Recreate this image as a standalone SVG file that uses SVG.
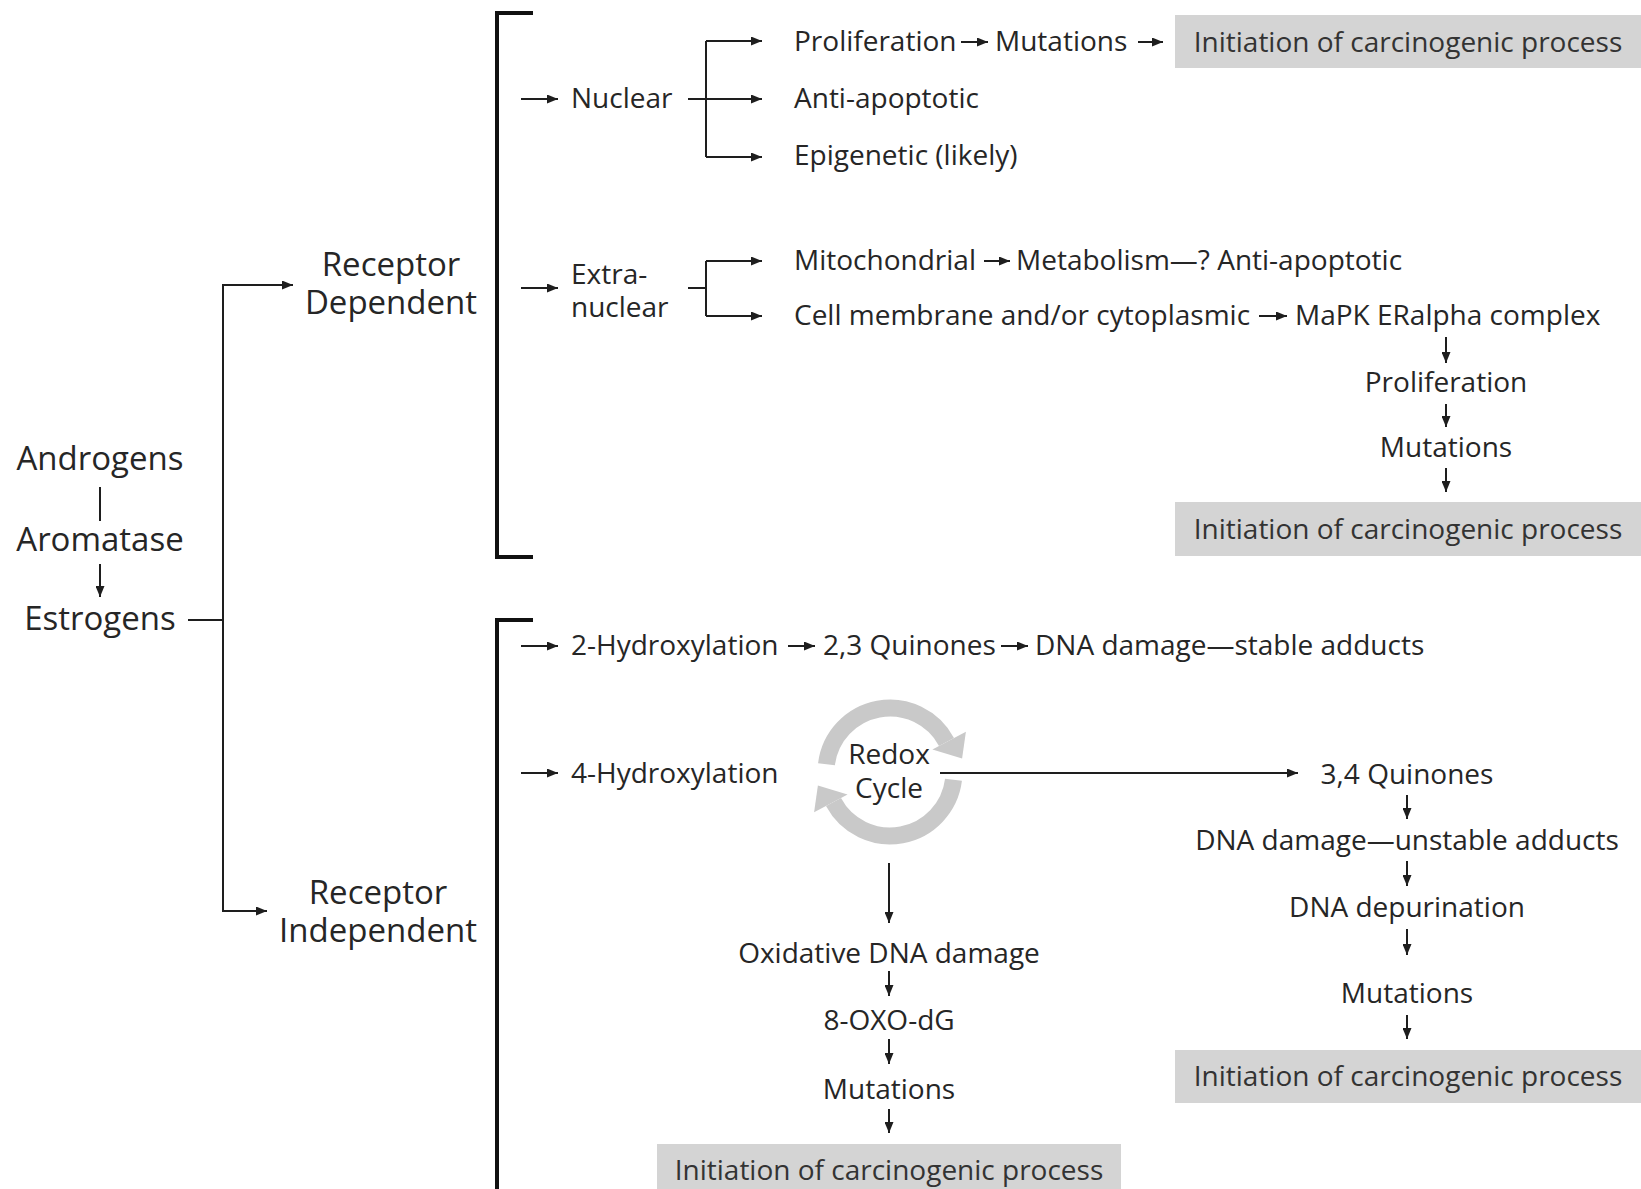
<svg xmlns="http://www.w3.org/2000/svg" width="1641" height="1189" viewBox="0 0 1641 1189">
<defs>
<marker id="ah" markerUnits="userSpaceOnUse" markerWidth="11" markerHeight="9" refX="11" refY="4.5" orient="auto"><path d="M0,0 L11,4.5 L0,9 z" fill="#1e1e1e"/></marker>
<style>
text{font-family:"Open Sans","Noto Sans","Liberation Sans",sans-serif;fill:#262626;font-size:28px}
.big{font-size:33px}
.m{text-anchor:middle}
.bt{fill:#333}
.ln{fill:none;stroke:#1e1e1e;stroke-width:2}
.ar{fill:none;stroke:#1e1e1e;stroke-width:2;marker-end:url(#ah)}
.br{fill:none;stroke:#111;stroke-width:4}
.box{fill:#d4d4d4}
.ring{fill:none;stroke:#c9c9c9;stroke-width:17}
.rh{fill:#c9c9c9}
</style>
</defs>
<rect width="1641" height="1189" fill="#fff"/>
<g id="connectors">
<line class="ln" x1="100" y1="487" x2="100" y2="521"/>
<line class="ar" x1="100" y1="564" x2="100" y2="597"/>
<path class="ln" d="M188,620 H223"/>
<path class="ar" d="M223,620 V285 H293"/>
<path class="ar" d="M223,620 V911 H267"/>
<path class="br" d="M533,13 H497 V557 H533"/>
<path class="br" d="M533,620 H497 V1195"/>
<line class="ar" x1="521" y1="99" x2="558" y2="99"/>
<line class="ar" x1="521" y1="288" x2="558" y2="288"/>
<line class="ar" x1="521" y1="646" x2="558" y2="646"/>
<line class="ar" x1="521" y1="773" x2="558" y2="773"/>
<line class="ar" x1="688" y1="99" x2="762" y2="99"/>
<path class="ln" d="M706,41 V157"/>
<line class="ar" x1="706" y1="41" x2="762" y2="41"/>
<line class="ar" x1="706" y1="157" x2="762" y2="157"/>
<path class="ln" d="M688,288 H706 M706,261 V316"/>
<line class="ar" x1="706" y1="261" x2="762" y2="261"/>
<line class="ar" x1="706" y1="316" x2="762" y2="316"/>
<line class="ar" x1="961" y1="42" x2="988" y2="42"/>
<line class="ar" x1="1138" y1="42" x2="1163" y2="42"/>
<line class="ar" x1="984" y1="261" x2="1010" y2="261"/>
<line class="ar" x1="1259" y1="316" x2="1287" y2="316"/>
<line class="ar" x1="1446" y1="337" x2="1446" y2="363"/>
<line class="ar" x1="1446" y1="404" x2="1446" y2="427"/>
<line class="ar" x1="1446" y1="468" x2="1446" y2="492"/>
<line class="ar" x1="788" y1="646" x2="815" y2="646"/>
<line class="ar" x1="1001" y1="646" x2="1028" y2="646"/>
<line class="ar" x1="940" y1="773" x2="1298" y2="773"/>
<line class="ar" x1="1407" y1="795" x2="1407" y2="819"/>
<line class="ar" x1="1407" y1="861" x2="1407" y2="886"/>
<line class="ar" x1="1407" y1="929" x2="1407" y2="955"/>
<line class="ar" x1="1407" y1="1015" x2="1407" y2="1039"/>
<line class="ar" x1="889" y1="863" x2="889" y2="923"/>
<line class="ar" x1="889" y1="971" x2="889" y2="996"/>
<line class="ar" x1="889" y1="1039" x2="889" y2="1064"/>
<line class="ar" x1="889" y1="1109" x2="889" y2="1133"/>
</g>
<g id="androgens"><text class="big m" x="100" y="470">Androgens</text></g>
<g id="aromatase"><text class="big m" x="100" y="551">Aromatase</text></g>
<g id="estrogens"><text class="big m" x="100" y="630">Estrogens</text></g>
<g id="receptor-dependent"><text class="big m" x="391" y="276">Receptor<tspan x="391" dy="38">Dependent</tspan></text></g>
<g id="receptor-independent"><text class="big m" x="378" y="904">Receptor<tspan x="378" dy="38">Independent</tspan></text></g>
<g id="nuclear"><text x="571" y="108">Nuclear</text></g>
<g id="extranuclear"><text x="571" y="284">Extra-<tspan x="571" dy="33">nuclear</tspan></text></g>
<g id="proliferation1"><text x="794" y="51">Proliferation</text></g>
<g id="mutations1"><text x="995" y="51">Mutations</text></g>
<g id="init1"><rect class="box" x="1175" y="15" width="466" height="53"/><text class="m bt" x="1408" y="52">Initiation of carcinogenic process</text></g>
<g id="antiapoptotic"><text x="794" y="108">Anti-apoptotic</text></g>
<g id="epigenetic"><text x="794" y="165">Epigenetic (likely)</text></g>
<g id="mitochondrial"><text x="794" y="270">Mitochondrial</text></g>
<g id="metabolism"><text x="1016" y="270">Metabolism—? Anti-apoptotic</text></g>
<g id="cellmembrane"><text x="794" y="325">Cell membrane and/or cytoplasmic</text></g>
<g id="mapk"><text x="1295" y="325">MaPK ERalpha complex</text></g>
<g id="proliferation2"><text class="m" x="1446" y="392">Proliferation</text></g>
<g id="mutations2"><text class="m" x="1446" y="457">Mutations</text></g>
<g id="init2"><rect class="box" x="1175" y="502" width="466" height="54"/><text class="m bt" x="1408" y="539">Initiation of carcinogenic process</text></g>
<g id="hydrox2"><text x="571" y="655">2-Hydroxylation</text></g>
<g id="quinones23"><text x="823" y="655">2,3 Quinones</text></g>
<g id="stable"><text x="1035" y="655">DNA damage—stable adducts</text></g>
<g id="hydrox4"><text x="571" y="783">4-Hydroxylation</text></g>
<g id="redox">
<path class="ring" d="M826.5,764.2 A64,64 0 0 1 946.5,742"/>
<polygon class="rh" points="965.9,731.7 932.4,749.5 962.1,758.6"/>
<path class="ring" d="M953.5,779.8 A64,64 0 0 1 833.5,802"/>
<polygon class="rh" points="814.1,812.3 847.6,794.5 817.9,785.4"/>
<text class="m" x="889" y="764">Redox<tspan x="889" dy="34">Cycle</tspan></text>
</g>
<g id="quinones34"><text class="m" x="1407" y="784">3,4 Quinones</text></g>
<g id="unstable"><text class="m" x="1407" y="850">DNA damage—unstable adducts</text></g>
<g id="depurination"><text class="m" x="1407" y="917">DNA depurination</text></g>
<g id="mutations3"><text class="m" x="1407" y="1003">Mutations</text></g>
<g id="init3"><rect class="box" x="1175" y="1050" width="466" height="53"/><text class="m bt" x="1408" y="1086">Initiation of carcinogenic process</text></g>
<g id="oxidative"><text class="m" x="889" y="963">Oxidative DNA damage</text></g>
<g id="oxodg"><text class="m" x="889" y="1030">8-OXO-dG</text></g>
<g id="mutations4"><text class="m" x="889" y="1099">Mutations</text></g>
<g id="init4"><rect class="box" x="657" y="1144" width="464" height="50"/><text class="m bt" x="889" y="1180">Initiation of carcinogenic process</text></g>
</svg>
